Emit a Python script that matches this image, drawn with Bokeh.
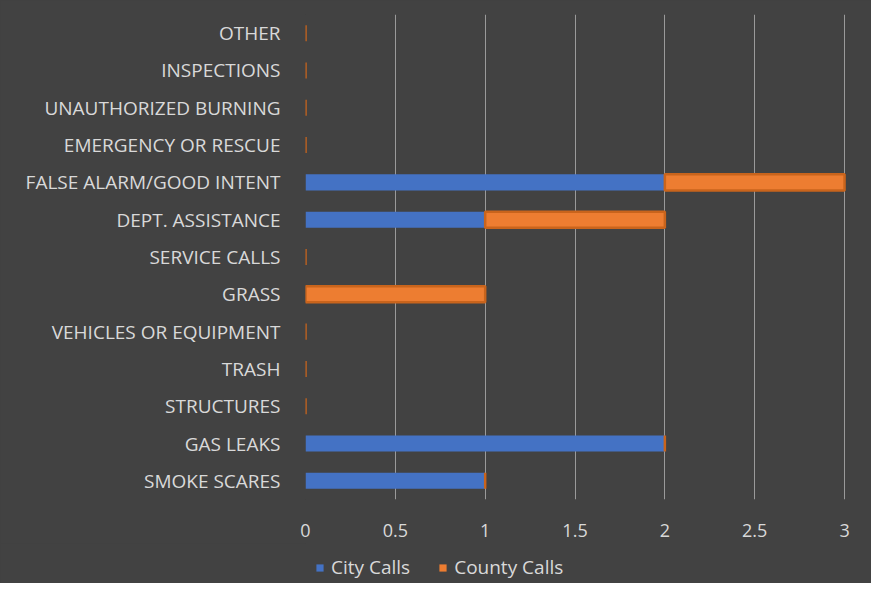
from bokeh.plotting import figure
from bokeh.layouts import column
from bokeh.models import (ColumnDataSource, Legend, LegendItem, FixedTicker,
                          NumeralTickFormatter, Range1d)
from bokeh.embed import file_html
from bokeh.resources import INLINE

categories = ["SMOKE SCARES", "GAS LEAKS", "STRUCTURES", "TRASH", "VEHICLES OR EQUIPMENT",
              "GRASS", "SERVICE CALLS", "DEPT. ASSISTANCE", "FALSE ALARM/GOOD INTENT",
              "EMERGENCY OR RESCUE", "UNAUTHORIZED BURNING", "INSPECTIONS", "OTHER"]
city_calls = [1, 2, 0, 0, 0, 0, 0, 1, 2, 0, 0, 0, 0]
county_calls = [0, 0, 0, 0, 0, 1, 0, 1, 1, 0, 0, 0, 0]
x_ticks = [0, 0.5, 1, 1.5, 2, 2.5, 3]
series_names = ["City Calls", "County Calls"]

county_left = city_calls
county_right = [a + b for a, b in zip(city_calls, county_calls)]

src = ColumnDataSource(dict(cat=categories, city=city_calls,
                            cl=county_left, cr=county_right))

BG = "#424242"
TXT = "#d9d9d9"
FONT = "Open Sans"
BLUE = "#4472c4"
ORANGE = "#ed7d31"

p = figure(frame_width=566, frame_height=485, y_range=categories, x_range=(0, 3.15),
           output_backend="svg", toolbar_location=None,
           background_fill_color=BG, border_fill_color=BG,
           min_border_left=305, min_border_right=0, min_border_top=14, min_border_bottom=44)
p.outline_line_color = None

p.hbar(y="cat", left=0, right="city", height=0.43, source=src,
       fill_color=BLUE, line_color=None)
p.hbar(y="cat", left="cl", right="cr", height=0.43, source=src,
       fill_color=ORANGE, line_color="#c9641c", line_width=2.5)

p.xgrid.grid_line_color = "#9a9a9a"
p.xgrid.grid_line_width = 1
p.ygrid.grid_line_color = None

p.xaxis.ticker = FixedTicker(ticks=x_ticks)
p.xaxis.formatter = NumeralTickFormatter(format="0.[0]")
for ax in (p.xaxis[0], p.yaxis[0]):
    ax.axis_line_color = None
    ax.major_tick_line_color = None
    ax.minor_tick_line_color = None
    ax.major_label_text_color = TXT
    ax.major_label_text_font = FONT
ax_x, ax_y = p.xaxis[0], p.yaxis[0]
ax_y.major_label_text_font_size = "19px"
ax_x.major_label_text_font_size = "18px"
ax_x.major_label_standoff = 18
ax_y.major_label_standoff = 19

# legend strip below the chart (its renderers are hidden; they only feed the legend swatches)
lp = figure(width=871, height=40, x_range=Range1d(0, 1), y_range=Range1d(0, 1),
            output_backend="svg", toolbar_location=None,
            background_fill_color=BG, border_fill_color=BG,
            x_axis_type=None, y_axis_type=None, min_border=0)
lp.outline_line_color = None
lp.grid.visible = False
lr_city = lp.hbar(y="city", right="city", height=0.5, source=src,
                  fill_color=BLUE, line_color=None, visible=False)
lr_county = lp.hbar(y="city", right="city", height=0.5, source=src,
                    fill_color=ORANGE, line_color=None, visible=False)

legend = Legend(items=[LegendItem(label=series_names[0], renderers=[lr_city]),
                       LegendItem(label=series_names[1], renderers=[lr_county])],
                orientation="horizontal", location=(10, 3),
                background_fill_alpha=0, border_line_color=None,
                label_text_color=TXT, label_text_font=FONT, label_text_font_size="19px",
                label_standoff=7, glyph_width=9, glyph_height=9, spacing=28,
                padding=2, margin=0)
lp.add_layout(legend)

layout = column(p, lp, spacing=0, styles={"background-color": BG})
open("out.html", "w").write(file_html(layout, INLINE))
